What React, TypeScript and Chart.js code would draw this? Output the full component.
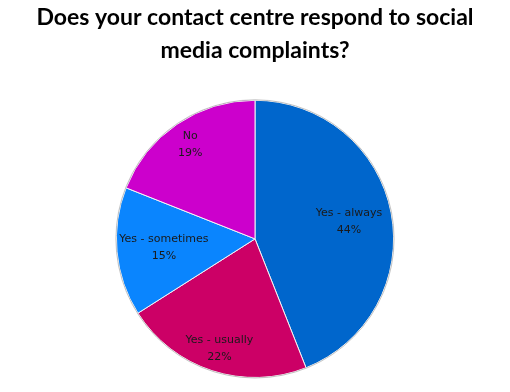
import React, { useEffect, useRef } from "react";
import { Chart, registerables } from "chart.js";

Chart.register(...registerables);

const titleLines = ["Does your contact centre respond to social", "media complaints?"];
const categories = ["Yes - always", "Yes - usually", "Yes - sometimes", "No"];
const percentages = [44, 22, 15, 19];
const sliceColors = ["#0066cc", "#cc0066", "#0a85fe", "#cc00cc"];
const labelRadiusFractions = [0.69, 0.83, 0.66, 0.83];

const labelPlugin = {
  id: "sliceLabels",
  afterDatasetsDraw(chart: any) {
    const ctx = chart.ctx;
    const meta = chart.getDatasetMeta(0);
    ctx.save();
    // outer rim
    const a0 = meta.data[0];
    ctx.beginPath();
    ctx.arc(a0.x, a0.y, a0.outerRadius + 0.5, 0, Math.PI * 2);
    ctx.strokeStyle = "rgba(160,160,160,0.6)";
    ctx.lineWidth = 1;
    ctx.stroke();
    ctx.font = "11px 'DejaVu Sans'";
    ctx.fillStyle = "#1a1a1a";
    ctx.textAlign = "center";
    ctx.textBaseline = "middle";
    meta.data.forEach((arc: any, i: number) => {
      const mid = (arc.startAngle + arc.endAngle) / 2;
      const r = arc.outerRadius * labelRadiusFractions[i];
      const x = arc.x + Math.cos(mid) * r;
      const y = arc.y + Math.sin(mid) * r;
      ctx.fillText(categories[i], x, y - 8);
      ctx.fillText(percentages[i] + "%", x, y + 9);
    });
    ctx.restore();
  },
};

export default function App() {
  const ref = useRef<HTMLCanvasElement>(null);
  useEffect(() => {
    const chart = new Chart(ref.current!, {
      type: "pie",
      data: {
        labels: categories,
        datasets: [
          {
            data: percentages,
            backgroundColor: sliceColors,
            borderColor: "#f4f4f4",
            borderWidth: 1,
          },
        ],
      },
      options: {
        animation: false,
        responsive: false,
        layout: { padding: { top: 0, bottom: 14, left: 0, right: 0 } },
        plugins: {
          legend: { display: false },
          tooltip: { enabled: false },
          title: {
            display: true,
            text: titleLines,
            color: "#000000",
            font: { family: "Lato", size: 23, weight: "bold", lineHeight: 1.43 },
            padding: { top: 1, bottom: 33 },
          },
        },
      },
      plugins: [labelPlugin],
    });
    return () => chart.destroy();
  }, []);
  return (
    <div style={{ position: "fixed", left: 0, top: 0, width: 510, height: 392, background: "#fff" }}>
      <canvas ref={ref} width={510} height={392} />
    </div>
  );
}
